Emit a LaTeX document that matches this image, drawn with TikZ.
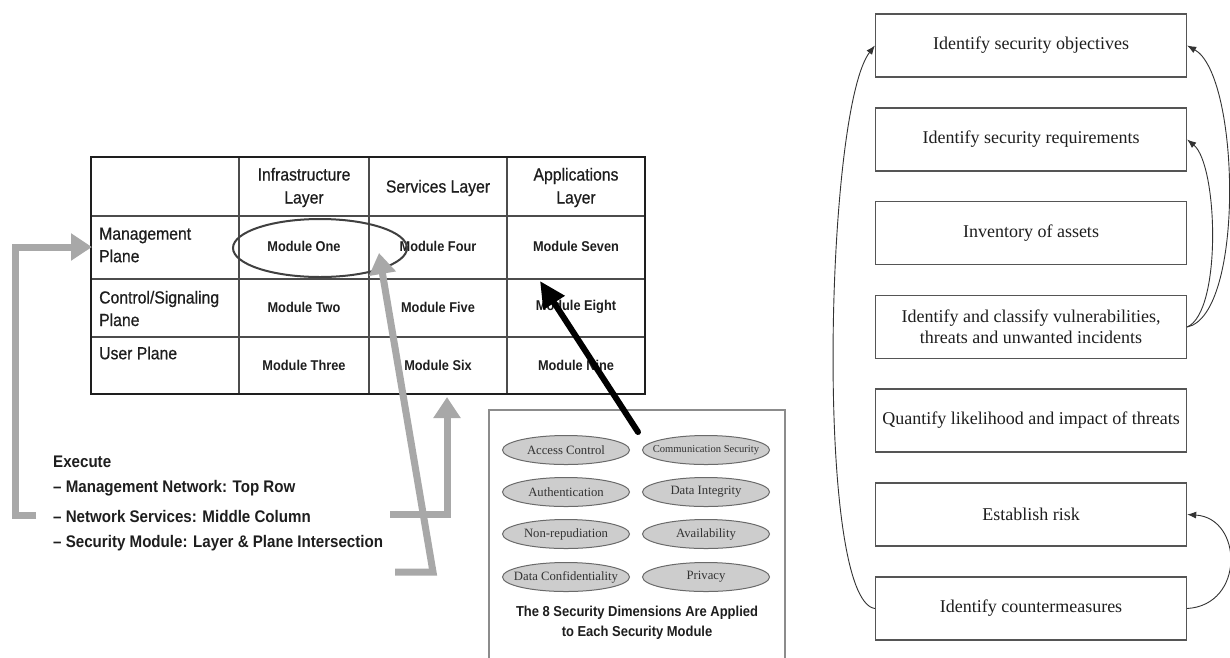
\documentclass[tikz,border=0pt]{standalone}
\usepackage{fontspec}
\setmainfont{Liberation Serif}
\newfontfamily\tabfont[FakeStretch=0.9]{Liberation Sans}
\newfontfamily\hdrfont[FakeStretch=0.9,FakeBold=0.6]{Liberation Sans}
\usetikzlibrary{arrows.meta,shapes.geometric,calc}
\definecolor{arrgray}{HTML}{A8A8A8}
\definecolor{ovalfill}{HTML}{CDCDCD}
\definecolor{ovaldraw}{HTML}{6A6A6A}
\definecolor{txtdark}{HTML}{1E1E1E}
\definecolor{boxline}{HTML}{555555}
\tikzset{
  hdr/.style={font=\hdrfont\fontsize{17.5}{23}\selectfont, align=center, inner sep=0pt, text=txtdark},
  rowlbl/.style={font=\hdrfont\fontsize{17.5}{22.5}\selectfont, align=left, inner sep=0pt, anchor=west, text=txtdark},
  modtxt/.style={font=\tabfont\bfseries\fontsize{14.2}{17}\selectfont, inner sep=0pt, text=txtdark},
  exectxt/.style={font=\tabfont\bfseries\fontsize{16.8}{20}\selectfont, inner sep=0pt, anchor=west, text=txtdark},
  tblouter/.style={draw=txtdark, line width=2.4pt},
  tblinner/.style={draw=black!70, line width=1.1pt},
  grayarrow/.style={draw=arrgray, line width=7pt, line join=miter, -{Triangle[length=21pt,width=26pt]}},
  blackarrow/.style={draw=black, line width=6pt, line cap=round, -{Triangle[length=26pt,width=24pt]}},
  dimoval/.style={ellipse, draw=ovaldraw, fill=ovalfill, line width=1pt, minimum width=127pt, minimum height=29pt, inner sep=0pt, font=\fontsize{12.7}{14}\selectfont, text=black!80},
  stepbox/.style={rectangle, draw=boxline, line width=1.3pt, minimum width=311pt, minimum height=63pt, inner sep=0pt, align=center, font=\fontsize{18}{21}\selectfont, text=txtdark},
  flowarrow/.style={draw=black!80, line width=0.9pt, -{Latex[length=9pt,width=7pt]}}
}
\newcommand{\ovtext}[1]{\makebox[0pt][c]{#1}}
\begin{document}
\begin{tikzpicture}[x=1pt,y=-1pt]
\useasboundingbox (0,0) rectangle (1230,657);
\fill[white] (0,0) rectangle (1230,657);

% ---------- table ----------
\node[tblouter, minimum width=554pt, minimum height=237pt, inner sep=0pt] (tbl) at (368,275.5) {};
\draw[tblinner] (239,157) -- (239,394);
\draw[tblinner] (369,157) -- (369,394);
\draw[tblinner] (507,157) -- (507,394);
\draw[tblinner] (91,216) -- (645,216);
\draw[tblinner] (91,279) -- (645,279);
\draw[tblinner] (91,337) -- (645,337);
\draw[tblouter] (91,157) rectangle (645,394);

\node[hdr] (h1) at (304,187.5) {Infrastructure\\Layer};
\node[hdr] (h2) at (438,188) {Services Layer};
\node[hdr] (h3) at (576,187.5) {Applications\\Layer};

\node[rowlbl] (r1) at (99,245) {Management\\Plane};
\node[rowlbl] (r2) at (99,308.5) {Control/Signaling\\Plane};
\node[rowlbl] (r3) at (99,353) {User Plane};

\node[modtxt] (m1) at (304,246) {Module One};
\node[modtxt] (m4) at (438,246) {Module Four};
\node[modtxt] (m7) at (576,246) {Module Seven};
\node[modtxt] (m2) at (304,307) {Module Two};
\node[modtxt] (m5) at (438,307) {Module Five};
\node[modtxt] (m8) at (576,307) {Module Eight};
\node[modtxt] (m3) at (304,365) {Module Three};
\node[modtxt] (m6) at (438,365) {Module Six};
\node[modtxt] (m9) at (576,365) {Module Nine};

\node[ellipse, draw=black!75, line width=2pt, minimum width=174pt, minimum height=58pt, inner sep=0pt] (circ) at (320,248) {};

% ---------- execute text ----------
\node[exectxt] (ex0) at (53,462) {Execute};
\node[exectxt] (ex1) at (53,488) {– Management Network: Top Row};
\node[exectxt] (ex2) at (53,516) {– Network Services: Middle Column};
\node[exectxt] (ex3) at (53,543) {– Security Module: Layer \& Plane Intersection};

% ---------- security dimensions box ----------
\draw[draw=black!45, line width=1.2pt] (489,660) -- (489,410) -- (785,410) -- (785,660);
\node[dimoval] (d1) at (566,450) {\ovtext{Access Control}};
\node[dimoval, font=\fontsize{10.6}{12}\selectfont] (d2) at (706,450) {\ovtext{Communication Security}};
\node[dimoval] (d3) at (566,492) {\ovtext{Authentication}};
\node[dimoval] (d4) at (706,492) {\ovtext{Data Integrity}};
\node[dimoval] (d5) at (566,534) {\ovtext{Non-repudiation}};
\node[dimoval] (d6) at (706,534) {\ovtext{Availability}};
\node[dimoval] (d7) at (566,577) {\ovtext{Data Confidentiality}};
\node[dimoval] (d8) at (706,577) {\ovtext{Privacy}};
\node[font=\tabfont\bfseries\fontsize{14.4}{20}\selectfont, align=center, inner sep=0pt, text=txtdark] (cap) at (637,623) {The 8 Security Dimensions Are Applied\\to Each Security Module};

% ---------- arrows on the left ----------
\coordinate (a1s) at (36,515);
\coordinate (a1t) at (92,247);
\draw[grayarrow] (a1s) -- (15,515) -- (15,247) -- (a1t);
\coordinate (a2s) at (390,514);
\coordinate (a2t) at (447,397);
\draw[grayarrow] (a2s) -- (447,514) -- (a2t);
\coordinate (a3s) at (395,572);
\coordinate (a3t) at (379,253);
\draw[grayarrow] (a3s) -- (433,572) -- (a3t);
\coordinate (a4s) at (638,432);
\coordinate (a4t) at (540,281);
\draw[blackarrow] (a4s) -- (a4t);

% ---------- right flowchart ----------
\node[stepbox] (b1) at (1031,45.5) {Identify security objectives};
\node[stepbox] (b2) at (1031,139.5) {Identify security requirements};
\node[stepbox] (b3) at (1031,233) {Inventory of assets};
\node[stepbox] (b4) at (1031,327) {Identify and classify vulnerabilities,\\threats and unwanted incidents};
\node[stepbox] (b5) at (1031,420.5) {Quantify likelihood and impact of threats};
\node[stepbox] (b6) at (1031,514.5) {Establish risk};
\node[stepbox] (b7) at (1031,608.5) {Identify countermeasures};

\draw[flowarrow] (b7.west) .. controls (815,600) and (825,110) .. (b1.west);
\draw[flowarrow] (b4.east) .. controls (1245,315) and (1240,75) .. (b1.east);
\draw[flowarrow] (b4.east) .. controls (1222,312) and (1218,165) .. (b2.east);
\draw[flowarrow] (b7.east) .. controls (1245,605) and (1243,518) .. (b6.east);
\end{tikzpicture}
\end{document}
